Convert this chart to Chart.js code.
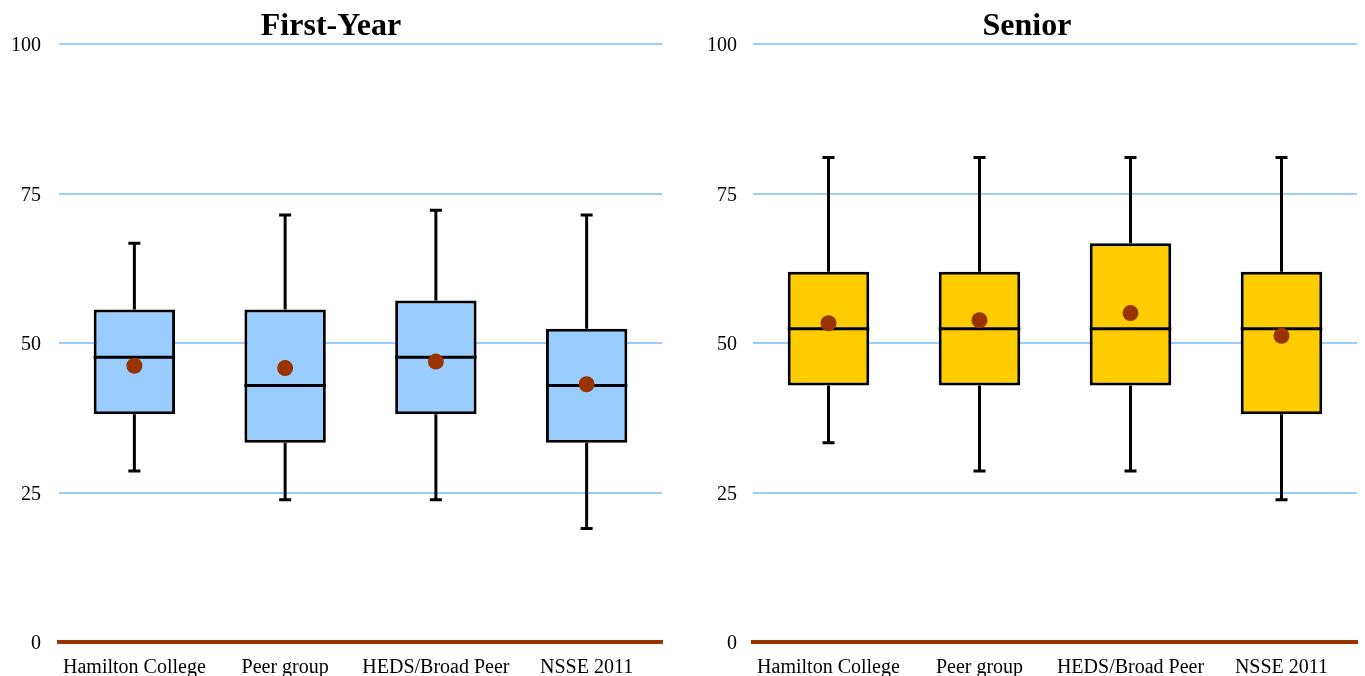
<!DOCTYPE html>
<html>
<head>
<meta charset="utf-8">
<script src="https://cdn.jsdelivr.net/npm/chart.js@4"></script>
<style>
  html, body { margin: 0; padding: 0; background: #ffffff; }
  body { width: 1365px; height: 676px; position: relative; overflow: hidden; }
  .wrap { position: absolute; top: 0; height: 676px; }
  #w1 { left: 0; width: 672px; }
  #w2 { left: 694px; width: 671px; }
</style>
</head>
<body>
<div class="wrap" id="w1"><canvas id="c1"></canvas></div>
<div class="wrap" id="w2"><canvas id="c2"></canvas></div>
<script>
// ---- data ----
const categories = ['Hamilton College', 'Peer group', 'HEDS/Broad Peer', 'NSSE 2011'];
const yTicks = [0, 25, 50, 75, 100];

const firstYearTitle = 'First-Year';
const fyMin    = [28.6, 23.8, 23.8, 19.0];
const fyQ1     = [38.1, 33.3, 38.1, 33.3];
const fyMedian = [47.6, 42.9, 47.6, 42.9];
const fyQ3     = [55.6, 55.6, 57.1, 52.4];
const fyMax    = [66.7, 71.4, 72.2, 71.4];
const fyMean   = [46.2, 45.8, 46.9, 43.1];

const seniorTitle = 'Senior';
const srMin    = [33.3, 28.6, 28.6, 23.8];
const srQ1     = [42.9, 42.9, 42.9, 38.1];
const srMedian = [52.4, 52.4, 52.4, 52.4];
const srQ3     = [61.9, 61.9, 66.7, 61.9];
const srMax    = [81.0, 81.0, 81.0, 81.0];
const srMean   = [53.3, 53.8, 55.0, 51.2];

// ---- styling ----
const FONT = "'Liberation Serif', 'Times New Roman', Times, serif";
const GRID = '#99CCFF';
const AXIS = '#993300';
const MEAN = '#993300';

const boxPlugin = {
  id: 'boxParts',
  beforeDatasetsDraw(chart, args, opts) {
    const ctx = chart.ctx, xs = chart.scales.x, ys = chart.scales.y;
    ctx.save();
    ctx.strokeStyle = '#000';
    ctx.lineWidth = 3;
    ctx.lineCap = 'butt';
    opts.min.forEach((mn, i) => {
      const x = xs.getPixelForValue(i);
      const yMin = ys.getPixelForValue(mn), yMax = ys.getPixelForValue(opts.max[i]);
      const yQ1 = ys.getPixelForValue(opts.q1[i]), yQ3 = ys.getPixelForValue(opts.q3[i]);
      ctx.beginPath();
      ctx.moveTo(x, yMax); ctx.lineTo(x, yQ3);
      ctx.moveTo(x, yQ1); ctx.lineTo(x, yMin);
      ctx.moveTo(x - 6, yMax); ctx.lineTo(x + 6, yMax);
      ctx.moveTo(x - 6, yMin); ctx.lineTo(x + 6, yMin);
      ctx.stroke();
    });
    ctx.restore();
  },
  afterDatasetDraw(chart, args, opts) {
    if (chart.data.datasets[args.index].type !== 'bar') return;
    const ctx = chart.ctx, ys = chart.scales.y;
    const meta = chart.getDatasetMeta(args.index);
    ctx.save();
    ctx.strokeStyle = '#000';
    ctx.lineWidth = 3;
    opts.median.forEach((md, i) => {
      const bar = meta.data[i];
      const y = ys.getPixelForValue(md);
      ctx.beginPath();
      ctx.moveTo(bar.x - bar.width / 2, y);
      ctx.lineTo(bar.x + bar.width / 2, y);
      ctx.stroke();
    });
    ctx.restore();
  }
};

function makeChart(id, title, mins, q1, med, q3, maxs, means, fill, yPad, rightPad) {
  return new Chart(document.getElementById(id), {
    type: 'bar',
    data: {
      labels: categories,
      datasets: [
        {
          type: 'line',
          label: 'Mean',
          data: means,
          showLine: false,
          pointRadius: 8,
          pointHoverRadius: 8,
          pointBackgroundColor: MEAN,
          pointBorderWidth: 0,
          borderColor: MEAN,
          order: 0
        },
        {
          type: 'bar',
          label: 'Box',
          data: q1.map((v, i) => [v, q3[i]]),
          backgroundColor: fill,
          borderColor: '#000',
          borderWidth: 3,
          borderSkipped: false,
          barPercentage: 0.54,
          categoryPercentage: 1,
          order: 1
        }
      ]
    },
    options: {
      responsive: true,
      maintainAspectRatio: false,
      animation: false,
      events: [],
      layout: { padding: { left: 0, right: rightPad, top: 0, bottom: 0 } },
      plugins: {
        legend: { display: false },
        tooltip: { enabled: false },
        title: {
          display: true,
          text: title,
          color: '#000',
          font: { family: FONT, size: 32, weight: 'bold', lineHeight: 1.0 },
          padding: { top: 11, bottom: 1 }
        },
        boxParts: { min: mins, q1: q1, median: med, q3: q3, max: maxs }
      },
      scales: {
        x: {
          grid: { display: false },
          border: { display: true, color: AXIS, width: 4 },
          ticks: { color: '#000', font: { family: FONT, size: 20 }, padding: 6, maxRotation: 0, autoSkip: false },
          afterFit(scale) { scale.height = 34; scale.paddingLeft = 0; scale.paddingRight = 0; }
        },
        y: {
          min: 0, max: 100,
          afterBuildTicks(scale) { scale.ticks = yTicks.map(v => ({ value: v })); },
          grid: {
            drawTicks: false,
            lineWidth: 2,
            color: (c) => (c.tick && c.tick.value === 0) ? 'rgba(0,0,0,0)' : GRID
          },
          border: { display: false },
          ticks: { color: '#000', font: { family: FONT, size: 20 }, padding: yPad, labelOffset: 2 },
          afterFit(scale) { scale.width = 59; }
        }
      }
    },
    plugins: [boxPlugin]
  });
}

makeChart('c1', firstYearTitle, fyMin, fyQ1, fyMedian, fyQ3, fyMax, fyMean, '#99CCFF', 18, 10);
makeChart('c2', seniorTitle, srMin, srQ1, srMedian, srQ3, srMax, srMean, '#FFCC00', 16, 5);
</script>
</body>
</html>
